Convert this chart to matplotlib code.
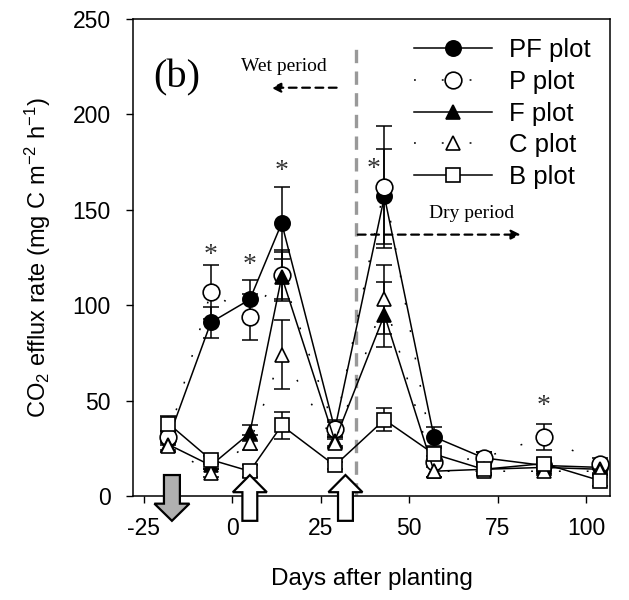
import numpy as np
import matplotlib
matplotlib.use("Agg")
import matplotlib.pyplot as plt
from matplotlib.patches import Polygon

plt.rcParams['font.family'] = ['Liberation Sans', 'DejaVu Sans']
plt.rcParams['axes.unicode_minus'] = False
plt.rcParams['mathtext.fontset'] = 'custom'
plt.rcParams['mathtext.rm'] = 'Liberation Sans'
plt.rcParams['mathtext.it'] = 'Liberation Sans:italic'
plt.rcParams['mathtext.default'] = 'rm'

# sampling days (days after planting)
days = [-18, -6, 5, 14, 29, 43, 57, 71, 88, 104]

# CO2 efflux rate (mg C m-2 h-1), mean and SE per plot
pf = [30, 91, 103, 143, 35, 157, 31, 20, 16, 15]
pf_err = [3, 8, 10, 19, 4, 25, 5, 3, 3, 3]
p = [31, 107, 94, 116, 35, 162, 18, 20, 31, 17]
p_err = [3, 14, 12, 13, 5, 32, 3, 3, 7, 3]
f = [27, 16, 33, 115, 29, 95, 13, 14, 15, 14]
f_err = [3, 2, 4, 13, 3, 17, 3, 2, 3, 3]
c = [26, 12, 28, 74, 28, 103, 13, 13, 13, 13]
c_err = [3, 2, 4, 18, 3, 18, 3, 2, 2, 2]
b = [38, 19, 13, 37, 16, 40, 22, 14, 17, 8]
b_err = [4, 2, 3, 7, 2, 6, 3, 3, 3, 3]

labels = ["PF plot", "P plot", "F plot", "C plot", "B plot"]

# significance marks: (day, y)
star_days = [-6, 5, 14, 40, 88]
star_y = [126, 121, 170, 171, 47]

# management events
gray_arrow_days = [-17]
open_arrow_days = [5, 32]
wet_dry_day = 35

fig = plt.figure(figsize=(6.29, 6.0), dpi=100)
ax = fig.add_axes([0.2114, 0.1733, 0.7584, 0.795])

dot = (0, (1.2, 17))
series = [
    (pf, pf_err, 'o', 'black', '-', 11),
    (p, p_err, 'o', 'white', dot, 12),
    (f, f_err, '^', 'black', '-', 10.5),
    (c, c_err, '^', 'white', dot, 10.5),
    (b, b_err, 's', 'white', '-', 10),
]

for (vals, err, mk, fc, ls, ms), lab in zip(series, labels):
    ax.errorbar(days, vals, yerr=err, fmt='none', ecolor='black',
                elinewidth=1.1, capsize=5.5, capthick=1.1, zorder=2)
    ax.plot(days, vals, linestyle=ls, color='black', linewidth=1.1,
            marker=mk, markersize=ms, markerfacecolor=fc,
            markeredgecolor='black', markeredgewidth=1.2, label=lab, zorder=3)

for d, y in zip(star_days, star_y):
    ax.text(d, y, '*', fontsize=20, family='Liberation Serif', color='#333333',
            ha='center', va='center')

# wet / dry boundary
ax.plot([wet_dry_day, wet_dry_day], [0, 237], color='#999999', linewidth=2.4,
        linestyle=(0, (4, 2.5)), zorder=1)

ax.text(-15.5, 219, '(b)', fontsize=29, family='Liberation Serif',
        ha='center', va='center')
ax.text(14.5, 225, 'Wet period', fontsize=14, family='Liberation Serif',
        ha='center', va='center')
ax.text(67.5, 148, 'Dry period', fontsize=14, family='Liberation Serif',
        ha='center', va='center')
ax.annotate('', xy=(11.0, 214), xytext=(29.5, 214),
            arrowprops=dict(arrowstyle='-|>', linestyle=(0, (3.5, 2.5)),
                            color='black', lw=1.6, mutation_scale=14,
                            shrinkA=0, shrinkB=0))
ax.annotate('', xy=(81.5, 137), xytext=(35.5, 137),
            arrowprops=dict(arrowstyle='-|>', linestyle=(0, (3.5, 2.5)),
                            color='black', lw=1.6, mutation_scale=14,
                            shrinkA=0, shrinkB=0))

# event arrows below the plot
def block_arrow(x, top, base, tip, stem_w, head_w, fc):
    pts = [(x - stem_w / 2, top), (x + stem_w / 2, top),
           (x + stem_w / 2, base), (x + head_w / 2, base), (x, tip),
           (x - head_w / 2, base), (x - stem_w / 2, base)]
    ax.add_patch(Polygon(pts, closed=True, facecolor=fc, edgecolor='black',
                         linewidth=1.6, clip_on=False, zorder=5))

for d in gray_arrow_days:
    block_arrow(d, 11, -4, -13, 4.5, 9.9, '#b0b0b0')
for d in open_arrow_days:
    block_arrow(d, -13, 2, 11, 4.2, 9.6, 'white')

ax.set_xlim(-28, 106.7)
ax.set_ylim(0, 250)
ax.set_xticks([-25, 0, 25, 50, 75, 100])
ax.set_yticks([0, 50, 100, 150, 200, 250])
ax.tick_params(direction='out', length=5, width=1, labelsize=16.5,
               top=False, right=False)
ax.tick_params(axis='x', pad=10)
ax.tick_params(axis='y', pad=11)
for s in ax.spines.values():
    s.set_linewidth(1.1)

ax.set_xlabel('Days after planting', fontsize=17.5, labelpad=20)
ax.set_ylabel('CO$_2$ efflux rate (mg C m$^{-2}$ h$^{-1}$)', fontsize=17,
              labelpad=14)

ax.legend(loc='upper right', bbox_to_anchor=(1.0, 1.0), frameon=False,
          fontsize=18.5, handlelength=3.05, handletextpad=0.65,
          labelspacing=0.3, borderaxespad=0.35)

fig.savefig('out.png', dpi=100)
